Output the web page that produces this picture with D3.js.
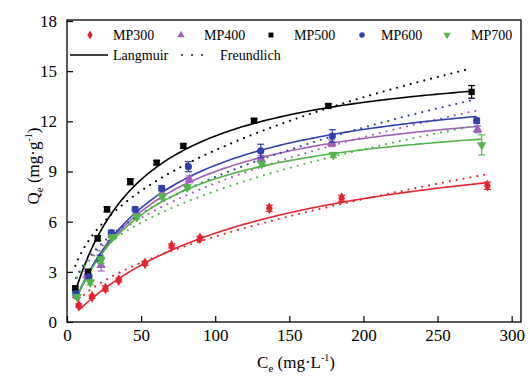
<!DOCTYPE html>
<html>
<head>
<meta charset="utf-8">
<script src="https://cdn.jsdelivr.net/npm/d3@7"></script>
<style>
  html, body { margin: 0; padding: 0; background: #fff; }
  svg { display: block; }
  svg text { font-family: "Liberation Serif", "Times New Roman", Times, "DejaVu Serif", serif; }
</style>
</head>
<body>
<svg id="chart" width="530" height="377"></svg>
<script>
// Equilibrium concentration Ce (mg/L) and adsorbed amount Qe (mg/g) per sample
const seriesNames = ["MP300", "MP400", "MP500", "MP600", "MP700"];
const seriesColors = ["#e8232b", "#a35fc0", "#000000", "#2f3fae", "#4fb748"];
const seriesSymbols = ["diamond", "triangle", "square", "circle", "triangleDown"];

const ceMP300 = [7.9, 16.9, 25.9, 34.9, 52.6, 70.6, 89.7, 136.5, 185.3, 283.6];
const qeMP300 = [0.98, 1.51, 2.01, 2.51, 3.51, 4.55, 5.0, 6.8, 7.4, 8.15];
const errMP300 = [0.1, 0.1, 0.15, 0.12, 0.12, 0.12, 0.12, 0.18, 0.18, 0.22];

const ceMP400 = [6.3, 13.5, 23.0, 30.2, 46.6, 64.0, 82.5, 131.0, 178.6, 277.0];
const qeMP400 = [1.6, 2.81, 3.4, 5.2, 6.5, 7.7, 8.53, 9.75, 10.69, 11.52];
const errMP400 = [0.15, 0.2, 0.35, 0.15, 0.15, 0.15, 0.2, 0.2, 0.2, 0.2];

const ceMP500 = [5.6, 14.2, 20.7, 27.0, 42.7, 60.5, 78.5, 126.2, 176.3, 273.0];
const qeMP500 = [2.02, 3.0, 5.0, 6.74, 8.39, 9.53, 10.53, 12.04, 12.92, 13.76];
const errMP500 = [0.1, 0.15, 0.15, 0.15, 0.18, 0.12, 0.12, 0.12, 0.12, 0.38];

const ceMP600 = [6.0, 14.8, 22.3, 29.9, 46.0, 63.9, 81.9, 130.7, 179.0, 276.4];
const qeMP600 = [1.7, 2.7, 3.8, 5.34, 6.74, 8.0, 9.29, 10.23, 11.12, 12.04];
const errMP600 = [0.1, 0.15, 0.2, 0.15, 0.15, 0.15, 0.3, 0.4, 0.38, 0.15];

const ceMP700 = [6.7, 15.7, 22.9, 30.4, 47.2, 64.3, 81.0, 131.4, 179.7, 279.8];
const qeMP700 = [1.51, 2.37, 3.7, 5.07, 6.3, 7.5, 8.06, 9.45, 9.99, 10.59];
const errMP700 = [0.12, 0.15, 0.2, 0.15, 0.15, 0.15, 0.15, 0.15, 0.15, 0.6];

// Fitted isotherm parameters: Langmuir (Qm, KL) and Freundlich (KF, 1/n)
const langmuirQm = [12.08, 14.07, 16.03, 14.93, 12.93];
const langmuirKL = [0.00784, 0.01774, 0.02266, 0.01685, 0.0196];
const freundlichKF = [0.453, 1.226, 1.72, 1.238, 1.247];
const freundlichInvN = [0.526, 0.415, 0.388, 0.4227, 0.399];

const xTicks = [0, 50, 100, 150, 200, 250, 300];
const yTicks = [0, 3, 6, 9, 12, 15, 18];

const ceAll = [ceMP300, ceMP400, ceMP500, ceMP600, ceMP700];
const qeAll = [qeMP300, qeMP400, qeMP500, qeMP600, qeMP700];
const errAll = [errMP300, errMP400, errMP500, errMP600, errMP700];

const SERIF = "'Liberation Serif', 'Times New Roman', Times, 'DejaVu Serif', serif";
const svg = d3.select("#chart");
const plot = { left: 67, right: 521, top: 20, bottom: 322 };

const x = d3.scaleLinear().domain([0, 306.3]).range([plot.left, plot.right]);
const y = d3.scaleLinear().domain([0, 18]).range([plot.bottom, plot.top + 1]);

const symbolTypes = {
  diamond: d3.symbolDiamond,
  triangle: d3.symbolTriangle,
  square: d3.symbolSquare,
  circle: d3.symbolCircle,
  triangleDown: d3.symbolTriangle
};
function symbolPath(name, size) {
  return d3.symbol().type(symbolTypes[name]).size(size)();
}

// Frame
svg.append("rect")
  .attr("x", plot.left).attr("y", plot.top)
  .attr("width", plot.right - plot.left).attr("height", plot.bottom - plot.top)
  .attr("fill", "none").attr("stroke", "#000").attr("stroke-width", 1.3);

// Axes with inward ticks
const xAxis = svg.append("g")
  .attr("transform", `translate(0,${plot.bottom})`)
  .call(d3.axisBottom(x).tickValues(xTicks).tickSizeInner(-6).tickSizeOuter(0).tickPadding(10));
const yAxis = svg.append("g")
  .attr("transform", `translate(${plot.left},0)`)
  .call(d3.axisLeft(y).tickValues(yTicks).tickSizeInner(-6).tickSizeOuter(0).tickPadding(10));
[xAxis, yAxis].forEach(g => {
  g.attr("font-family", SERIF).attr("font-size", 17);
  g.select(".domain").remove();
  g.selectAll("line").attr("stroke", "#000").attr("stroke-width", 1.2);
  g.selectAll("text").attr("font-family", SERIF).attr("font-size", 17).attr("fill", "#000");
});
xAxis.selectAll("text").attr("dy", "0.72em").attr("y", 7);
yAxis.selectAll("text").attr("x", -10);

// Axis titles
const xTitle = svg.append("text")
  .attr("x", (plot.left + plot.right) / 2 + 2).attr("y", 368)
  .attr("text-anchor", "middle").attr("font-size", 17).attr("font-family", SERIF);
xTitle.append("tspan").text("C");
xTitle.append("tspan").attr("font-size", 11).attr("dy", 4).text("e");
xTitle.append("tspan").attr("dy", -4).text(" (mg·L");
xTitle.append("tspan").attr("font-size", 10).attr("dy", -7).text("-1");
xTitle.append("tspan").attr("dy", 7).text(")");

const yTitle = svg.append("text")
  .attr("transform", "translate(39,166) rotate(-90)")
  .attr("text-anchor", "middle").attr("font-size", 17).attr("font-family", SERIF);
yTitle.append("tspan").text("Q");
yTitle.append("tspan").attr("font-size", 11).attr("dy", 4).text("e");
yTitle.append("tspan").attr("dy", -4).text(" (mg·g");
yTitle.append("tspan").attr("font-size", 10).attr("dy", -7).text("-1");
yTitle.append("tspan").attr("dy", 7).text(")");

// Fitted curves: Freundlich dotted, Langmuir solid
const line = d3.line().x(d => x(d[0])).y(d => y(d[1]));
seriesNames.forEach((name, i) => {
  const ce = ceAll[i];
  const c0 = ce[0], c1 = ce[ce.length - 1];
  const steps = 120;
  const cs = d3.range(steps + 1).map(k => c0 + (c1 - c0) * k / steps);
  const lang = cs.map(c => [c, langmuirQm[i] * langmuirKL[i] * c / (1 + langmuirKL[i] * c)]);
  const freu = cs.map(c => [c, freundlichKF[i] * Math.pow(c, freundlichInvN[i])]);
  svg.append("path").attr("d", line(freu))
    .attr("fill", "none").attr("stroke", seriesColors[i])
    .attr("stroke-width", 2.1).attr("stroke-dasharray", "0.01,7")
    .attr("stroke-linecap", "round");
  svg.append("path").attr("d", line(lang))
    .attr("fill", "none").attr("stroke", seriesColors[i]).attr("stroke-width", 1.6);
});

// Data points with error bars
seriesNames.forEach((name, i) => {
  const g = svg.append("g");
  const pts = ceAll[i].map((c, k) => ({ c, q: qeAll[i][k], e: errAll[i][k] }));
  pts.forEach(p => {
    const px = x(p.c), top = y(p.q + p.e), bot = y(p.q - p.e);
    g.append("line").attr("x1", px).attr("x2", px).attr("y1", top).attr("y2", bot)
      .attr("stroke", seriesColors[i]).attr("stroke-width", 1.2);
    [top, bot].forEach(yy => g.append("line")
      .attr("x1", px - 3.5).attr("x2", px + 3.5).attr("y1", yy).attr("y2", yy)
      .attr("stroke", seriesColors[i]).attr("stroke-width", 1.2));
    const rot = seriesSymbols[i] === "triangleDown" ? " rotate(180)" : "";
    g.append("path").attr("d", symbolPath(seriesSymbols[i], 40))
      .attr("transform", `translate(${px},${y(p.q)})${rot}`)
      .attr("fill", seriesColors[i]);
  });
});

// Legend
const legendRow1 = [90, 181, 271, 362, 447];
const legendText1 = [113, 204, 294, 381, 471];
seriesNames.forEach((name, i) => {
  const rot = seriesSymbols[i] === "triangleDown" ? " rotate(180)" : "";
  svg.append("path").attr("d", symbolPath(seriesSymbols[i], 24))
    .attr("transform", `translate(${legendRow1[i]},35)${rot}`)
    .attr("fill", seriesColors[i]);
  svg.append("text").attr("x", legendText1[i]).attr("y", 40)
    .attr("font-size", 14).attr("font-family", SERIF).text(name);
});
svg.append("line").attr("x1", 70).attr("x2", 108).attr("y1", 55).attr("y2", 55)
  .attr("stroke", "#000").attr("stroke-width", 1.5);
svg.append("text").attr("x", 113).attr("y", 60).attr("font-size", 14)
  .attr("font-family", SERIF).text("Langmuir");
svg.append("line").attr("x1", 182).attr("x2", 212).attr("y1", 55).attr("y2", 55)
  .attr("stroke", "#000").attr("stroke-width", 1.8)
  .attr("stroke-dasharray", "0.01,10").attr("stroke-linecap", "round");
svg.append("text").attr("x", 220).attr("y", 60).attr("font-size", 14)
  .attr("font-family", SERIF).text("Freundlich");
</script>
</body>
</html>
